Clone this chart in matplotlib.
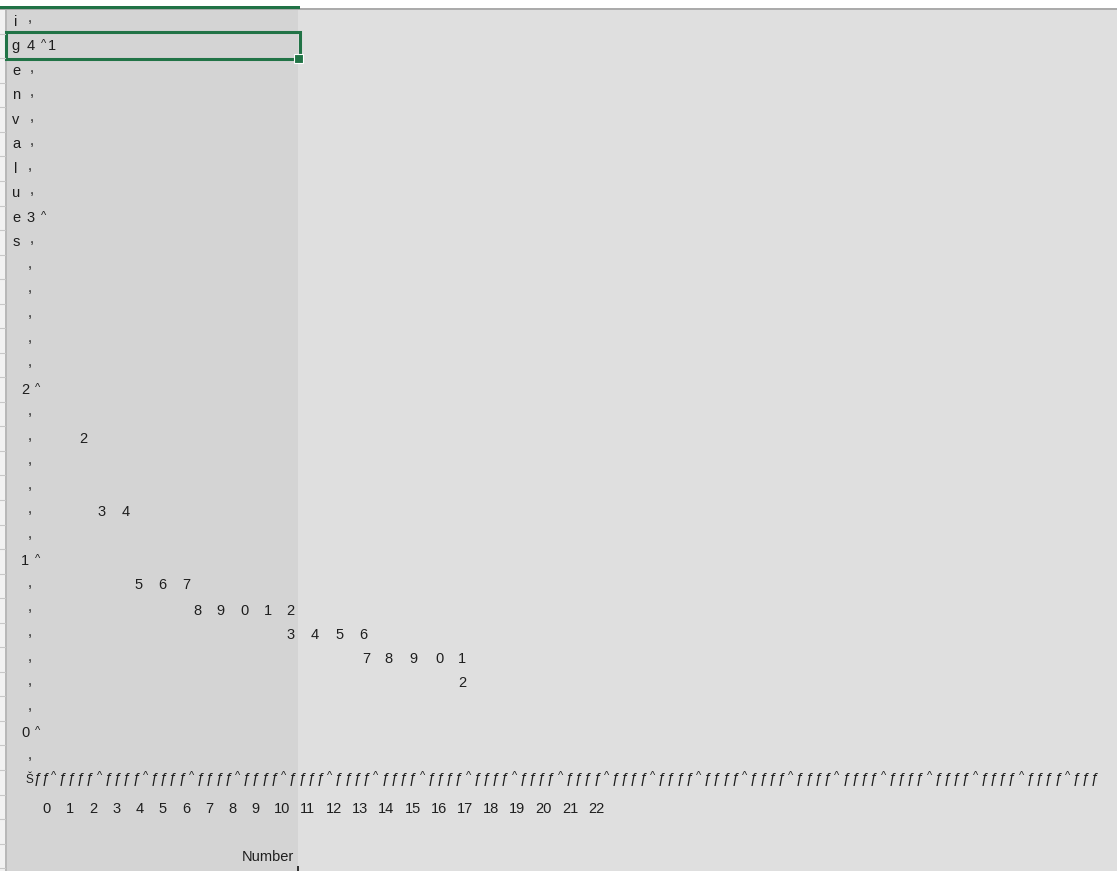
import matplotlib.pyplot as plt
from matplotlib.patches import Rectangle

# scree plot, shown as a text chart inside a spreadsheet
number = list(range(1, 23))
eigen = [4.00, 1.71, 1.29, 1.29, 0.86, 0.86, 0.86, 0.71, 0.71, 0.71, 0.71, 0.71,
         0.57, 0.57, 0.57, 0.57, 0.43, 0.43, 0.43, 0.43, 0.43, 0.29]
# where each digit sits against the x scale
xpos = [0.23, 1.56, 2.38, 3.42, 3.94, 4.97, 6.00, 6.48, 7.47, 8.53, 9.52, 10.50,
        10.50, 11.56, 12.60, 13.63, 13.76, 14.75, 15.79, 16.91, 17.90, 17.90]
yticks = [0, 1, 2, 3, 4]
xticks = list(range(0, 23))
ylabel = "Eigenvalues"
xlabel = "Number"

W, H = 1117, 871
fs = 10.5
ink = '#1e1e1e'
plt.rcParams['font.family'] = ['Liberation Sans', 'DejaVu Sans']

fig = plt.figure(figsize=(W / 100, H / 100), dpi=100)

# spreadsheet chrome in pixel units
bg = fig.add_axes([0, 0, 1, 1])
bg.set_xlim(0, W)
bg.set_ylim(H, 0)
bg.axis('off')
bg.add_patch(Rectangle((0, 0), W, H, color='#dfdfdf', lw=0))
bg.add_patch(Rectangle((0, 0), 6, H, color='#f2f2f2', lw=0))
bg.add_patch(Rectangle((6, 9), 292, H, color='#d4d4d4', lw=0))
bg.add_patch(Rectangle((5, 9), 1.5, H, color='#b8b8b8', lw=0))
bg.add_patch(Rectangle((0, 0), W, 8, color='white', lw=0))
bg.add_patch(Rectangle((0, 8), W, 2, color='#ababab', lw=0))
bg.add_patch(Rectangle((0, 6.5), 300, 2.5, color='#217346', lw=0))

row_h = 24.54


def row_y(r):
    return 21.5 + row_h * r


for r in range(36):
    yb = row_y(r) + row_h / 2
    bg.plot([0, 5], [yb, yb], color='#c8c8c8', lw=0.8)

# selected cell
bg.add_patch(Rectangle((6, 32.5), 293.5, 26.5, fill=False, ec='#217346', lw=2.2))
bg.add_patch(Rectangle((294, 54), 9, 9, color='#217346', ec='white', lw=0.8))
bg.add_patch(Rectangle((297, 866), 1.6, 5, color='#333333', lw=0))

# data axes on top: x in number units, y in eigenvalue units
x0, xs = 46.7, 23.2
v0, vs = 733.2, row_h * 7
ax = fig.add_axes([0, 0, 1, 1])
ax.set_xlim(-x0 / xs, (W - x0) / xs)
ax.set_ylim((v0 - H) / vs, v0 / vs)
ax.axis('off')
ax.patch.set_alpha(0)

for n, x, v in zip(number, xpos, eigen):
    ax.text(x, v, str(n % 10), ha='center', va='center', fontsize=fs, color=ink)

# left column: vertical label (first letter scrolled off the top), commas, ticks
letters = ylabel[1:]
tick_rows = {29 - 7 * t: t for t in yticks}
for r in range(31):
    y = row_y(r)
    if r < len(letters):
        bg.text(16, y, letters[r], ha='center', va='center', fontsize=fs, color=ink)
    if r in tick_rows:
        dx = 31 if r < len(letters) else 25
        bg.text(dx, y, str(tick_rows[r]), ha='center', va='center', fontsize=fs, color=ink)
        bg.text(dx + 13, y - 2, '^', ha='center', va='center', fontsize=8, color=ink)
    else:
        cx = 32 if (r < len(letters) and letters[r] not in 'il') else 30
        bg.text(cx, y - 3, ',', ha='center', va='center', fontsize=fs, color=ink)

# x axis line
axis_chars = 'ƒƒ^' + 'ƒƒƒƒ^' * 22 + 'ƒƒƒ'
ya = row_y(31) - 3
bg.text(29.5, ya + 1, 'Š', ha='center', va='center', fontsize=8.5, color=ink)
for i, ch in enumerate(axis_chars):
    cx = [37.8, 45.2][i] if i < 2 else 53.3 + 9.22 * (i - 2)
    if ch == '^':
        bg.text(cx, ya - 3, ch, ha='center', va='center', fontsize=8, color=ink)
    else:
        bg.text(cx, ya, ch, ha='center', va='center', fontsize=fs, color=ink)

# x tick labels laid out like proportional text
cx = x0
for k, t in enumerate(xticks):
    if k > 0:
        cx += 23.2 if (t < 10) else 26.2
    bg.text(cx, row_y(32) + 2, str(t), ha='center', va='center', fontsize=fs, color=ink)

bg.text(294, row_y(34) + 1, xlabel, ha='right', va='center', fontsize=fs, color=ink)

fig.savefig('out.png', dpi=100)
